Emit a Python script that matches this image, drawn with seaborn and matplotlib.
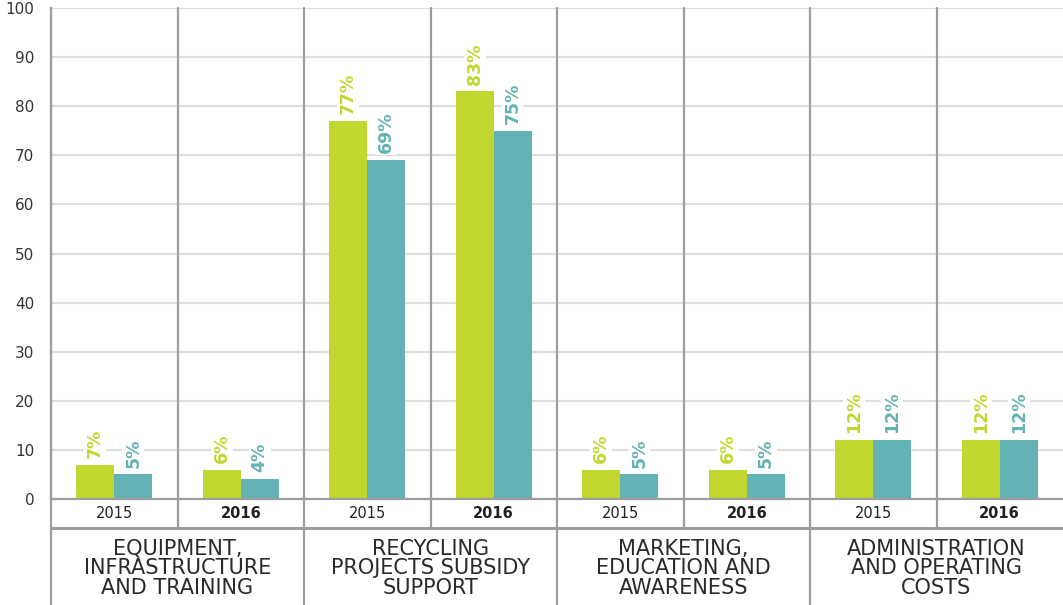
import pandas as pd
import matplotlib.pyplot as plt
import seaborn as sns

# chart values
categories = ["EQUIPMENT,\nINFRASTRUCTURE\nAND TRAINING",
              "RECYCLING\nPROJECTS SUBSIDY\nSUPPORT",
              "MARKETING,\nEDUCATION AND\nAWARENESS",
              "ADMINISTRATION\nAND OPERATING\nCOSTS"]
years = ["2015", "2016"]
series_names = ["green", "teal"]
green_vals = [7, 6, 77, 83, 6, 6, 12, 12]
teal_vals = [5, 4, 69, 75, 5, 5, 12, 12]
yticks = list(range(0, 101, 10))

GREEN = "#C1D72F"
TEAL = "#63B2B4"
SEP = "#9d9d9f"
GRID = "#dedede"

slots = [f"{c}|{y}" for c in categories for y in years]
df = pd.DataFrame({
    "slot": slots * 2,
    "series": [series_names[0]] * len(slots) + [series_names[1]] * len(slots),
    "value": green_vals + teal_vals,
})

sns.set_style("white")
plt.rcParams['font.family'] = ['DejaVu Sans']

fig = plt.figure(figsize=(10.63, 6.05), dpi=100)
ax = fig.add_axes([51 / 1063, 106 / 605, 1 - 51 / 1063, 491 / 605])

sns.barplot(data=df, x="slot", y="value", hue="series", order=slots,
            palette=[GREEN, TEAL], width=0.6, saturation=1, legend=False,
            linewidth=0, ax=ax)

ax.set_ylim(0, 100)
ax.set_xlim(-0.5, len(slots) - 0.5)
ax.set_yticks(yticks)
ax.set_yticklabels([str(t) for t in yticks], fontsize=11, color="#333333")
ax.tick_params(axis="y", length=0, pad=12)
ax.set_xticks([])
ax.set_xlabel("")
ax.set_ylabel("")
ax.set_axisbelow(True)
ax.yaxis.grid(True, color=GRID, lw=1.6)
for s in ["top", "right"]:
    ax.spines[s].set_visible(False)
for s in ["left", "bottom"]:
    ax.spines[s].set_color(SEP)
    ax.spines[s].set_linewidth(1.6)

# value labels
for cont, col in zip(ax.containers, [GREEN, TEAL]):
    ax.bar_label(cont, labels=[f"{int(v)}%" for v in cont.datavalues],
                 rotation=90, padding=5, color=col, fontsize=12.5,
                 fontweight="bold",
                 bbox=dict(facecolor="white", edgecolor="none", lw=0, pad=1.5))

# table below the axis
trans = ax.get_xaxis_transform()
year_bot = -29 / 491
fig_bot = -106 / 491
for i in range(len(slots)):
    x = i - 0.5
    if i % 2 == 0:
        ax.plot([x, x], [1, fig_bot], transform=trans, color=SEP, lw=1.6,
                clip_on=False)
    else:
        ax.plot([x, x], [1, year_bot], transform=trans, color=SEP, lw=1.6,
                clip_on=False)
ax.plot([-0.5, len(slots) - 0.5], [year_bot, year_bot], transform=trans,
        color=SEP, lw=2.2, clip_on=False)

for i, s in enumerate(slots):
    yr = s.split("|")[1]
    ax.text(i, year_bot / 2, yr, transform=trans, ha="center", va="center",
            fontsize=10.5, color="#222222",
            fontweight="bold" if yr == years[1] else "normal")

for j, c in enumerate(categories):
    ax.text(2 * j + 0.5, (year_bot + fig_bot) / 2 - 0.004, c, transform=trans,
            ha="center", va="center", fontsize=15, color="#2a2a2a",
            linespacing=0.98)

fig.savefig("out.png", dpi=100)
